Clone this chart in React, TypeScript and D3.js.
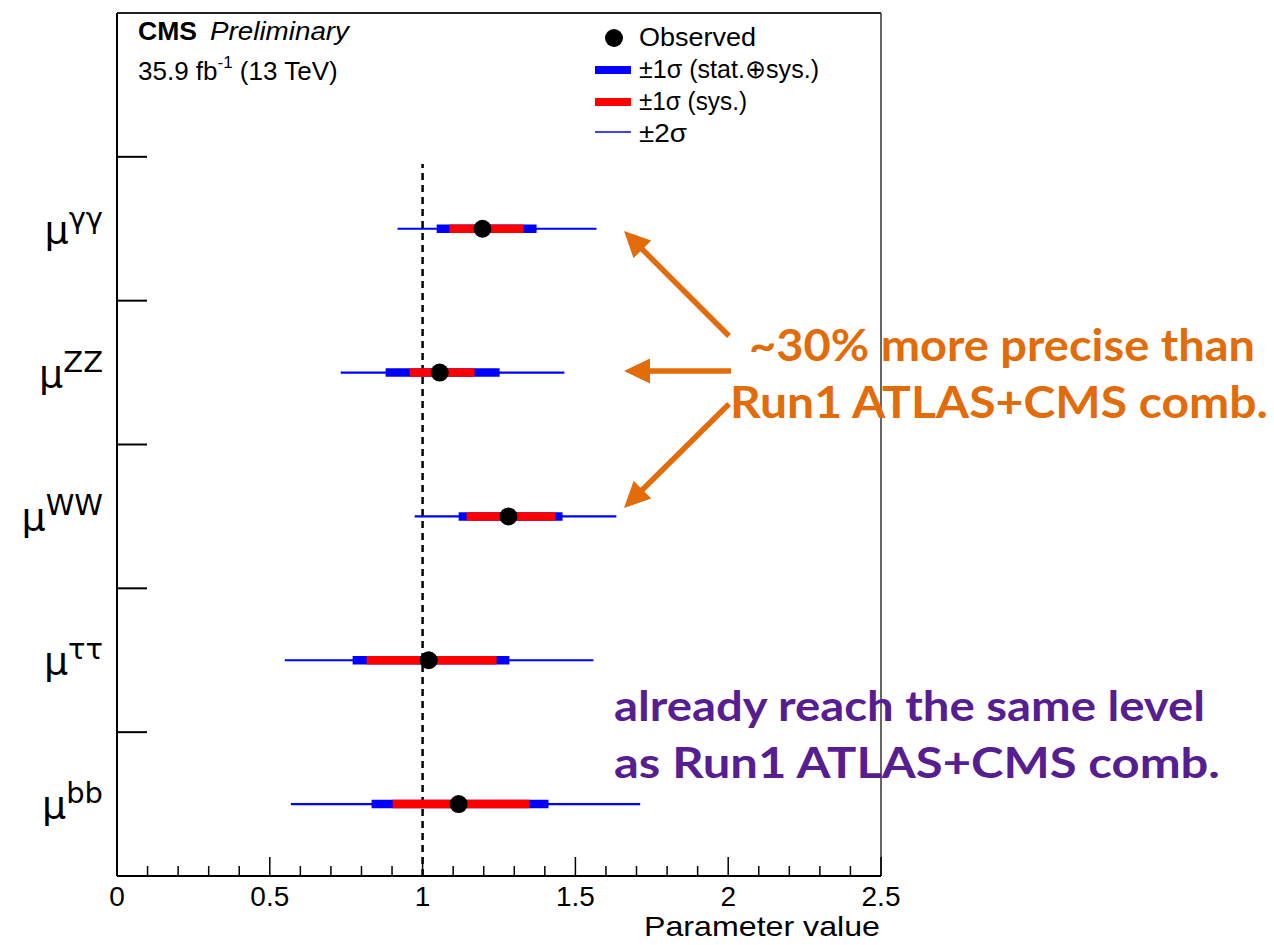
import React from "react";
import * as d3 from "d3";

// Data (top to bottom)
const categories = ["γγ", "ZZ", "WW", "ττ", "bb"];
const observed = [1.196, 1.056, 1.281, 1.02, 1.118];
const lo2 = [0.918, 0.732, 0.974, 0.549, 0.569];
const hi2 = [1.569, 1.464, 1.634, 1.559, 1.712];
const lo1 = [1.046, 0.879, 1.118, 0.771, 0.833];
const hi1 = [1.373, 1.252, 1.458, 1.284, 1.412];
const sysLo = [1.088, 0.958, 1.144, 0.817, 0.902];
const sysHi = [1.33, 1.17, 1.435, 1.242, 1.35];
const xMajorTicks = [0, 0.5, 1, 1.5, 2, 2.5];
const xTickLabels = ["0", "0.5", "1", "1.5", "2", "2.5"];
const yTicks = [1, 2, 3, 4, 5];
const legendLabels = ["Observed", "±1σ (stat.⊕sys.)", "±1σ (sys.)", "±2σ"];

const W = 1274;
const H = 945;
const L = 117, R = 881, T = 13, B = 876;

const ORANGE = "#E26B0A";
const PURPLE = "#561E91";

export default function App() {
  const x = d3.scaleLinear().domain([0, 2.5]).range([L, R]);
  const y = d3.scaleLinear().domain([0, 6]).range([B, T]);
  const minor = d3.range(0, 25).map((i) => i / 10).filter((v) => Math.abs(v * 2 - Math.round(v * 2)) > 1e-6);
  const yc = (i: number) => y(4.5 - i);
  const sans = "'Liberation Sans', Arial, Helvetica, sans-serif";
  const dv = "'DejaVu Sans', sans-serif";

  const arrow = (x1: number, y1: number, x2: number, y2: number, key: string) => {
    const ang = Math.atan2(y2 - y1, x2 - x1);
    const hl = 26, hw = 12.5;
    const bx = x2 - hl * Math.cos(ang), by = y2 - hl * Math.sin(ang);
    const px = -Math.sin(ang), py = Math.cos(ang);
    const ex = x2 - (hl - 4) * Math.cos(ang), ey = y2 - (hl - 4) * Math.sin(ang);
    return (
      <g key={key}>
        <line x1={x1} y1={y1} x2={ex} y2={ey} stroke={ORANGE} strokeWidth={5.5} />
        <polygon
          points={`${x2},${y2} ${bx + px * hw},${by + py * hw} ${bx - px * hw},${by - py * hw}`}
          fill={ORANGE}
        />
      </g>
    );
  };

  const legendW = [117, 180, 108, 48];

  return (
    <svg width={W} height={H} style={{ position: "absolute", left: 0, top: 0 }} fontFamily={sans}>
      <rect x={0} y={0} width={W} height={H} fill="white" />
      {/* frame */}
      <line x1={L} y1={T} x2={R} y2={T} stroke="#222" strokeWidth={2} />
      <line x1={R} y1={T} x2={R} y2={B} stroke="#333" strokeWidth={1.5} />
      <line x1={L} y1={T} x2={L} y2={B} stroke="black" strokeWidth={2} />
      <line x1={L} y1={B} x2={R} y2={B} stroke="black" strokeWidth={2} />

      {/* x ticks */}
      {xMajorTicks.map((v) => (
        <line key={"M" + v} x1={x(v)} x2={x(v)} y1={B} y2={B - 19} stroke="black" strokeWidth={1.5} />
      ))}
      {minor.map((v) => (
        <line key={"m" + v} x1={x(v)} x2={x(v)} y1={B} y2={B - 10} stroke="black" strokeWidth={1.5} />
      ))}
      {xMajorTicks.map((v, i) => (
        <text key={"l" + v} x={x(v)} y={B + 30} fontSize={28} textAnchor="middle" fill="black">
          {xTickLabels[i]}
        </text>
      ))}
      <text x={R - 1} y={936} fontSize={28} textAnchor="end" fill="black" textLength={236} lengthAdjust="spacingAndGlyphs">
        Parameter value
      </text>

      {/* y ticks */}
      {yTicks.map((v) => (
        <line key={"y" + v} x1={L} x2={L + 30} y1={y(v)} y2={y(v)} stroke="black" strokeWidth={2} />
      ))}

      {/* y labels */}
      {categories.map((c, i) => (
        <text key={"c" + c} x={103} y={yc(i) + 14} textAnchor="end" fontFamily={dv} fill="black">
          <tspan fontSize={38}>μ</tspan>
          <tspan fontSize={29} dy={-15}>{c}</tspan>
        </text>
      ))}

      {/* dashed line at 1 */}
      <line x1={x(1)} x2={x(1)} y1={y(0)} y2={y(4.95)} stroke="black" strokeWidth={2.5} strokeDasharray="7,5" />

      {/* error bars */}
      {categories.map((c, i) => (
        <g key={"e" + c}>
          <line x1={x(lo2[i])} x2={x(hi2[i])} y1={yc(i)} y2={yc(i)} stroke="#0000ff" strokeWidth={2.2} />
          <line x1={x(lo1[i])} x2={x(hi1[i])} y1={yc(i)} y2={yc(i)} stroke="#0000ff" strokeWidth={8.5} />
          <line x1={x(sysLo[i])} x2={x(sysHi[i])} y1={yc(i)} y2={yc(i)} stroke="#ff0000" strokeWidth={8.5} />
          <circle cx={x(observed[i])} cy={yc(i)} r={9} fill="black" />
        </g>
      ))}

      {/* CMS label */}
      <text x={138} y={40} fontSize={25} fill="black" fontWeight="bold" textLength={59} lengthAdjust="spacingAndGlyphs">CMS</text>
      <text x={210} y={40} fontSize={25} fill="black" fontStyle="italic" textLength={139} lengthAdjust="spacingAndGlyphs">Preliminary</text>
      <text x={138} y={80} fontSize={26} fill="black">
        35.9 fb<tspan fontSize={17} dy={-12}>-1</tspan>
        <tspan dy={12}> (13 TeV)</tspan>
      </text>

      {/* legend */}
      <circle cx={614} cy={38} r={9} fill="black" />
      <line x1={595} x2={631} y1={70} y2={70} stroke="#0000ff" strokeWidth={8} />
      <line x1={595} x2={631} y1={102} y2={102} stroke="#ff0000" strokeWidth={8} />
      <line x1={595} x2={631} y1={132} y2={132} stroke="#0000ff" strokeWidth={1.5} />
      {legendLabels.map((t, i) => (
        <text key={"lg" + i} x={639} y={46 + i * 32} fontSize={26} fill="black" textLength={legendW[i]} lengthAdjust="spacingAndGlyphs">
          {t}
        </text>
      ))}

      {/* annotations */}
      {arrow(729, 336, 624, 231, "a1")}
      {arrow(731, 371, 624, 371, "a2")}
      {arrow(729, 404, 624, 508, "a3")}
      <text x={749} y={361} fontFamily="Lato, sans-serif" fontWeight="bold" fontSize={44} fill={ORANGE}
        textLength={506} lengthAdjust="spacingAndGlyphs">~30% more precise than</text>
      <text x={730} y={418} fontFamily="Lato, sans-serif" fontWeight="bold" fontSize={44} fill={ORANGE}
        textLength={538} lengthAdjust="spacingAndGlyphs">Run1 ATLAS+CMS comb.</text>
      <text x={614} y={721} fontFamily="Lato, sans-serif" fontWeight="bold" fontSize={42} fill={PURPLE}
        textLength={591} lengthAdjust="spacingAndGlyphs">already reach the same level</text>
      <text x={614} y={778} fontFamily="Lato, sans-serif" fontWeight="bold" fontSize={42} fill={PURPLE}
        textLength={606} lengthAdjust="spacingAndGlyphs">as Run1 ATLAS+CMS comb.</text>
    </svg>
  );
}
